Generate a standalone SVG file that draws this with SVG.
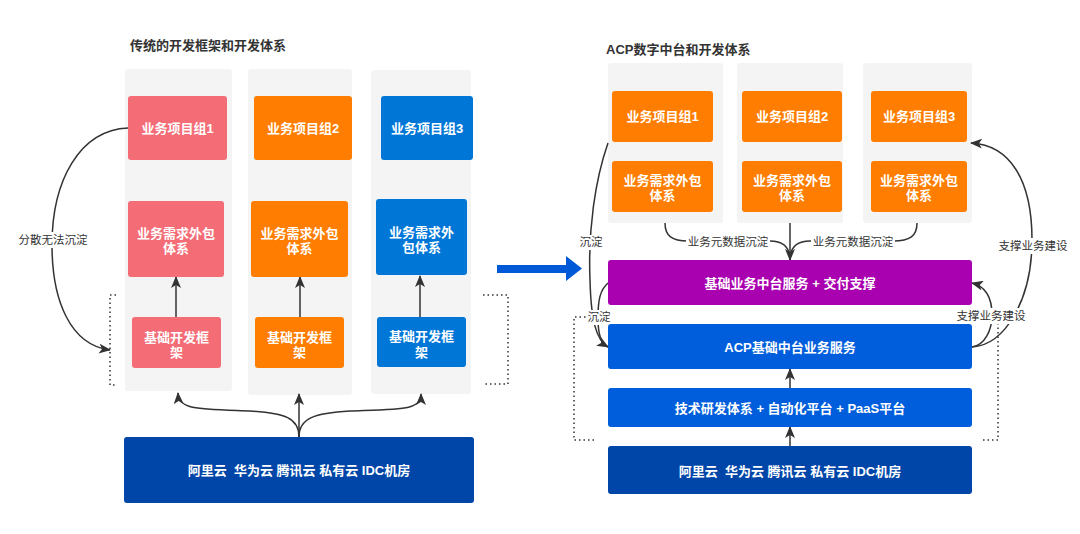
<svg xmlns="http://www.w3.org/2000/svg" width="1080" height="534" viewBox="0 0 1080 534">
<defs>
<style>
.bg{fill:#f4f4f4}
.n{font-family:"Liberation Sans","Noto Sans CJK SC",sans-serif;font-size:13px;font-weight:bold;fill:#fff;text-anchor:middle}
.t{font-family:"Liberation Sans","Noto Sans CJK SC",sans-serif;font-size:13px;font-weight:bold;fill:#333}
.l{font-family:"Liberation Sans","Noto Sans CJK SC",sans-serif;font-size:11.5px;fill:#333;text-anchor:middle}
.c{fill:none;stroke:#333;stroke-width:1.5}
.d{fill:none;stroke:#333;stroke-width:1.5;stroke-dasharray:1.5 3}
.pink{fill:#f46c75}
.org{fill:#ff7d00}
.blu{fill:#0077d7}
.acp{fill:#005edc}
.cld{fill:#0046a8}
.pur{fill:#a900b0}
</style>
<marker id="ah" viewBox="0 0 10 10" refX="9" refY="5" markerWidth="7" markerHeight="7" markerUnits="userSpaceOnUse" orient="auto" style="overflow:visible">
<path d="M0,0 L10,5 L0,10 L2.5,5 Z" fill="#333"/>
</marker>
<marker id="ah2" viewBox="0 0 12 10" refX="11" refY="5" markerWidth="12" markerHeight="10" markerUnits="userSpaceOnUse" orient="auto">
<path d="M0,0 L12,5 L0,10 L3,5 Z" fill="#333"/>
</marker>
</defs>
<rect width="1080" height="534" fill="#fff"/>

<text class="t" x="130" y="50">传统的开发框架和开发体系</text>
<text class="t" x="606" y="54">ACP数字中台和开发体系</text>

<g id="columns">
<rect class="bg" x="125" y="69" width="107" height="322" rx="3"/>
<rect class="bg" x="248" y="69" width="104" height="326" rx="3"/>
<rect class="bg" x="371" y="70" width="100" height="324" rx="3"/>
<rect class="bg" x="608" y="63" width="115" height="160" rx="3"/>
<rect class="bg" x="737" y="63" width="106" height="160" rx="3"/>
<rect class="bg" x="863" y="63" width="109" height="160" rx="3"/>
</g>

<g id="connectors">
<path class="c" d="M176,317 V277" marker-end="url(#ah2)"/>
<path class="c" d="M300,317 V277" marker-end="url(#ah2)"/>
<path class="c" d="M420,317 V276" marker-end="url(#ah2)"/>
<path class="c" d="M299,437 V394" marker-end="url(#ah2)"/>
<path class="c" d="M299,437 C299,418 285,413 250,411 C196,409 179,410 178,393" marker-end="url(#ah2)"/>
<path class="c" d="M299,437 C299,418 315,413 350,411 C404,409 421,410 421,394" marker-end="url(#ah2)"/>
<path class="c" d="M128,128 C80,130 52,180 52,245 C52,300 70,345 110,350" marker-end="url(#ah2)"/>
<path class="d" d="M116,295 H110 V385 H116"/>
<path class="d" d="M483,295 H508 V384 H483"/>

<path class="c" d="M665,223 C665,236 672,241 688,241 L770,241 C784,241 790,248 790,260"/>
<path class="c" d="M917,223 C917,236 910,241 893,241 L810,241 C796,241 790,248 790,260"/>
<path class="c" d="M790,223 V260" marker-end="url(#ah2)"/>
<path class="c" d="M790,388 V369" marker-end="url(#ah2)"/>
<path class="c" d="M790,446 V427" marker-end="url(#ah2)"/>
<path class="c" d="M608,143 C595,180 588,230 590,280 C591,320 596,340 608,347" marker-end="url(#ah2)"/>
<path class="c" d="M608,283 C600,290 598,300 598,318 C598,335 601,343 608,347"/>
<path class="c" d="M972,347 C1005,345 1032,300 1032,240 C1032,180 1010,145 971,143" marker-end="url(#ah2)"/>
<path class="c" d="M972,347 C985,345 992,330 992,315 C992,300 988,287 972,283" marker-end="url(#ah2)"/>
<path class="d" d="M590,317 H574 V440 H597"/>
<path class="d" d="M998,323 V440 H980"/>

<path d="M497,265 H566 V256 L582,268.5 L566,281 V273 H497 Z" fill="#0059d6"/>
</g>

<g id="labels">
<rect x="16" y="232" width="74" height="16" fill="#fff"/>
<text class="l" x="53" y="244">分散无法沉淀</text>
<rect x="686" y="234" width="84" height="15" fill="#fff"/>
<text class="l" x="728" y="245.5">业务元数据沉淀</text>
<rect x="811" y="234" width="84" height="15" fill="#fff"/>
<text class="l" x="853" y="245.5">业务元数据沉淀</text>
<rect x="578" y="235" width="26" height="15" fill="#fff"/>
<text class="l" x="591" y="246">沉淀</text>
<rect x="586" y="310" width="26" height="15" fill="#fff"/>
<text class="l" x="599" y="321">沉淀</text>
<rect x="997" y="238" width="72" height="16" fill="#fff"/>
<text class="l" x="1033" y="250">支撑业务建设</text>
<rect x="955" y="308" width="72" height="16" fill="#fff"/>
<text class="l" x="991" y="320">支撑业务建设</text>
</g>

<g id="l-proj1"><rect class="pink" x="128" y="96" width="99" height="64" rx="3"/><text class="n" x="177.5" y="132.5">业务项目组1</text></g>
<g id="l-proj2"><rect class="org" x="254" y="96" width="98" height="64" rx="3"/><text class="n" x="303" y="132.5">业务项目组2</text></g>
<g id="l-proj3"><rect class="blu" x="381" y="96" width="92" height="64" rx="3"/><text class="n" x="427" y="132.5">业务项目组3</text></g>

<g id="l-out1"><rect class="pink" x="128" y="201" width="96" height="76" rx="3"/><text class="n" x="176" y="237.5">业务需求外包</text><text class="n" x="176" y="252.5">体系</text></g>
<g id="l-out2"><rect class="org" x="251" y="201" width="97" height="76" rx="3"/><text class="n" x="299.5" y="237.5">业务需求外包</text><text class="n" x="299.5" y="252.5">体系</text></g>
<g id="l-out3"><rect class="blu" x="376" y="199" width="91" height="76" rx="3"/><text class="n" x="421.5" y="236.5">业务需求外</text><text class="n" x="421.5" y="252">包体系</text></g>

<g id="l-fw1"><rect class="pink" x="132" y="317" width="89" height="51" rx="3"/><text class="n" x="176.5" y="341.5">基础开发框</text><text class="n" x="176.5" y="357">架</text></g>
<g id="l-fw2"><rect class="org" x="255" y="317" width="89" height="51" rx="3"/><text class="n" x="299.5" y="341.5">基础开发框</text><text class="n" x="299.5" y="357">架</text></g>
<g id="l-fw3"><rect class="blu" x="377" y="317" width="89" height="50" rx="3"/><text class="n" x="421.5" y="340.5">基础开发框</text><text class="n" x="421.5" y="357">架</text></g>

<g id="l-cloud"><rect class="cld" x="124" y="437" width="350" height="66" rx="3"/><text class="n" x="299" y="474.5" xml:space="preserve">阿里云  华为云 腾讯云 私有云 IDC机房</text></g>

<g id="r-proj1"><rect class="org" x="612" y="91" width="101" height="51" rx="3"/><text class="n" x="662.5" y="121">业务项目组1</text></g>
<g id="r-proj2"><rect class="org" x="742" y="91" width="100" height="51" rx="3"/><text class="n" x="792" y="121">业务项目组2</text></g>
<g id="r-proj3"><rect class="org" x="871" y="91" width="96" height="51" rx="3"/><text class="n" x="919" y="121">业务项目组3</text></g>

<g id="r-out1"><rect class="org" x="612" y="161" width="101" height="51" rx="3"/><text class="n" x="662.5" y="184.5">业务需求外包</text><text class="n" x="662.5" y="199.5">体系</text></g>
<g id="r-out2"><rect class="org" x="742" y="161" width="100" height="51" rx="3"/><text class="n" x="792" y="184.5">业务需求外包</text><text class="n" x="792" y="199.5">体系</text></g>
<g id="r-out3"><rect class="org" x="871" y="161" width="96" height="51" rx="3"/><text class="n" x="919" y="184.5">业务需求外包</text><text class="n" x="919" y="199.5">体系</text></g>

<g id="r-mid"><rect class="pur" x="608" y="260" width="364" height="45" rx="3"/><text class="n" x="790" y="287.5">基础业务中台服务 + 交付支撑</text></g>
<g id="r-acp"><rect class="acp" x="608" y="324" width="364" height="45" rx="3"/><text class="n" x="790" y="351.5">ACP基础中台业务服务</text></g>
<g id="r-tech"><rect class="acp" x="608" y="388" width="364" height="39" rx="3"/><text class="n" x="790" y="412.5">技术研发体系 + 自动化平台 + PaaS平台</text></g>
<g id="r-cloud"><rect class="cld" x="608" y="446" width="364" height="48" rx="3"/><text class="n" x="790" y="475.5" xml:space="preserve">阿里云  华为云 腾讯云 私有云 IDC机房</text></g>
</svg>
